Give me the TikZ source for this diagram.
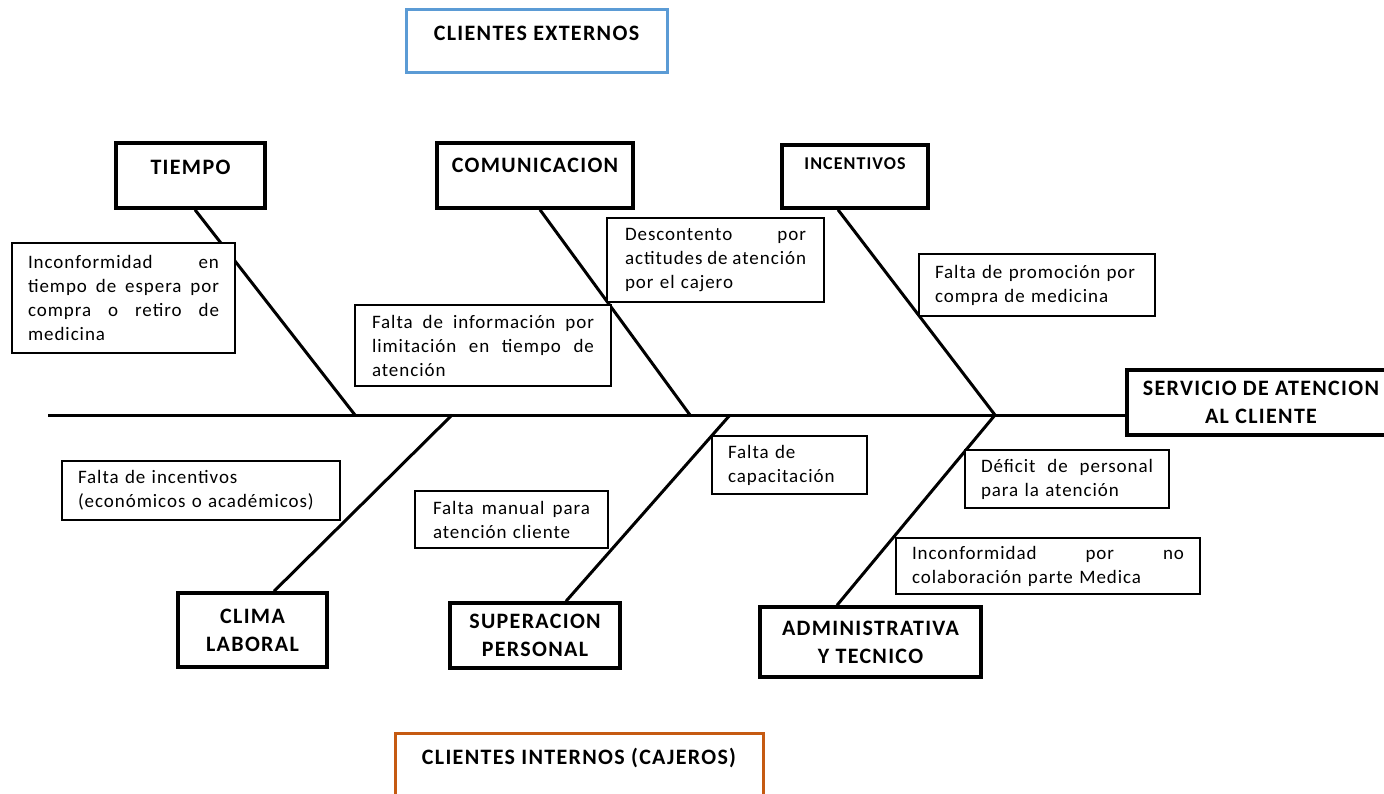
\documentclass[tikz,border=0pt]{standalone}
\usepackage{fontspec}
\setmainfont{Carlito}
\newfontfamily\causefam{Carlito}[LetterSpace=5]
\newfontfamily\catfam{Carlito}[LetterSpace=6]
\definecolor{extblue}{HTML}{5B9BD5}
\definecolor{intorange}{HTML}{C55A11}
% a justified line of a cause box: spaces stretch to fill the line
\newcommand\jline[1]{\makebox[\hsize][s]{\spaceskip=0.25em plus 1fil\relax #1}}
% single-line heading raised inside its box
\newcommand\lift[2]{\raisebox{#1}[0pt][0pt]{#2}}

\tikzset{
  catbox/.style={draw=black, line width=3.5pt, fill=white, inner sep=0pt,
    align=center, font=\catfam\bfseries\fontsize{22}{28}\selectfont},
  groupbox/.style={catbox, line width=3pt},
  causebox/.style={draw=black, line width=1.4pt, fill=white, inner ysep=0pt,
    align=left, font=\causefam\fontsize{19}{24}\selectfont},
  bone/.style={draw=black, line width=3pt}
}

\begin{document}
\begin{tikzpicture}[x=1pt,y=-1pt]
\useasboundingbox (0,0) rectangle (1384,793);

% junctions on the main spine
\coordinate (tail) at (48,415);
\coordinate (j1) at (355,415);
\coordinate (j2) at (690,415);
\coordinate (j3) at (995,415);
\coordinate (j4) at (452,415);
\coordinate (j5) at (730,415);

% categories
\node[catbox, minimum width=149pt, minimum height=65pt] (tiempo) at (190.5,175.5)
  {\lift{1.5pt}{TIEMPO}};
\node[catbox, minimum width=196pt, minimum height=65pt] (comunic) at (535,175.5)
  {\lift{3.5pt}{COMUNICACION}};
\node[catbox, minimum width=146pt, minimum height=63pt,
  font=\catfam\bfseries\fontsize{18}{24}\selectfont] (incent) at (855,176.5)
  {\lift{7.5pt}{INCENTIVOS}};
\node[catbox, minimum width=149pt, minimum height=74pt] (clima) at (252.5,630)
  {CLIMA\\LABORAL};
\node[catbox, minimum width=170pt, minimum height=65pt] (superac) at (535,635.5)
  {SUPERACION\\PERSONAL};
\node[catbox, minimum width=221pt, minimum height=70pt] (admin) at (870.5,642)
  {ADMINISTRATIVA\\Y TECNICO};

% effect
\node[catbox, minimum width=268pt, minimum height=65pt] (servicio) at (1261,402.5)
  {SERVICIO DE ATENCION\\AL CLIENTE};

% spine and bones
\draw[bone] (tail) -- (tail -| servicio.west);
\draw[bone] ([xshift=4.5pt]tiempo.south) -- (j1);
\draw[bone] ([xshift=5pt]comunic.south) -- (j2);
\draw[bone] ([xshift=-17pt]incent.south) -- (j3);
\draw[bone] (j4) -- ([xshift=21.5pt]clima.north);
\draw[bone] (j5) -- ([xshift=31pt]superac.north);
\draw[bone] (j3) -- ([xshift=-33.5pt]admin.north);

% causes
\node[causebox, text width=191pt, inner xsep=16pt, minimum height=110pt] (inc1) at (123.5,298)
  {\jline{Inconformidad en}\\\jline{tiempo de espera por}\\\jline{compra o retiro de}\\medicina};
\node[causebox, text width=222pt, inner xsep=17pt, minimum height=81pt] (inf) at (483,345.5)
  {\jline{Falta de información por}\\\jline{limitación en tiempo de}\\atención};
\node[causebox, text width=181pt, inner xsep=18pt, minimum height=84pt] (desc) at (715.5,260)
  {\jline{Descontento por}\\\jline{actitudes de atención}\\por el cajero};
\node[causebox, text width=204pt, inner xsep=16pt, minimum height=62pt] (prom) at (1037,285)
  {Falta de promoción por\\compra de medicina};
\node[causebox, text width=246pt, inner xsep=16pt, minimum height=59pt] (fincen) at (201,490.5)
  {Falta de incentivos\\(económicos o académicos)};
\node[causebox, text width=157pt, inner xsep=18pt, minimum height=57pt] (manual) at (511.5,519.5)
  {\jline{Falta manual para}\\atención cliente};
\node[causebox, text width=123pt, inner xsep=16pt, minimum height=58pt] (capac) at (789.5,465)
  {Falta de\\capacitación};
\node[causebox, text width=172pt, inner xsep=16pt, minimum height=58pt] (deficit) at (1067,479)
  {\jline{Déficit de personal}\\para la atención};
\node[causebox, text width=272pt, inner xsep=16pt, minimum height=56pt] (incno) at (1048,566)
  {\jline{Inconformidad por no}\\colaboración parte Medica};

% customer groups
\node[groupbox, draw=extblue, minimum width=261pt, minimum height=63pt] (externos) at (536.5,40.5)
  {\lift{0.5pt}{CLIENTES EXTERNOS}};
\node[groupbox, draw=intorange, minimum width=368pt, minimum height=77pt] (internos) at (579,771.5)
  {\lift{7.5pt}{CLIENTES INTERNOS (CAJEROS)}};
\end{tikzpicture}
\end{document}
